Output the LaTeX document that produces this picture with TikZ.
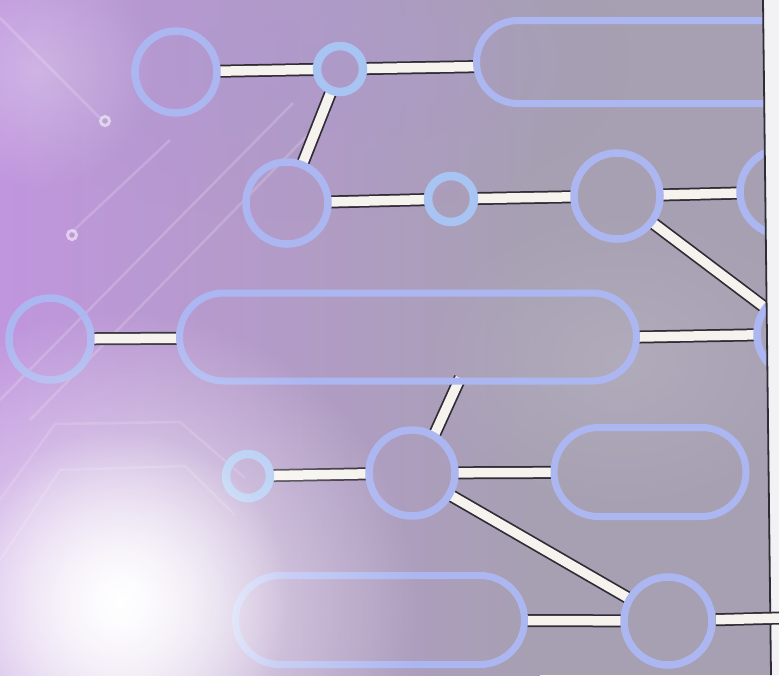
\documentclass[tikz,border=0pt]{standalone}
\usetikzlibrary{shapes.misc,fadings,calc}
\pgfdeclarelayer{bg}
\pgfdeclarelayer{conn}
\pgfsetlayers{bg,conn,main}
\definecolor{basec}{RGB}{166,160,178}
\definecolor{purpc}{RGB}{192,150,222}
\definecolor{topc}{RGB}{172,152,208}
\definecolor{ringc}{RGB}{172,182,240}
\definecolor{dotc}{RGB}{168,196,242}
\definecolor{wiredark}{RGB}{48,44,54}
\definecolor{wirewhite}{RGB}{246,243,238}
\definecolor{stripc}{RGB}{242,242,244}
\tikzfading[name=glowfade, inner color=transparent!0, outer color=transparent!100]
\newcommand\mywire[2]{\draw[wireout] (#1) -- (#2); \draw[wirein] (#1) -- (#2);}
\begin{document}
\begin{tikzpicture}[x=1pt,y=-1pt,
  ring/.style={circle, draw=ringc, line width=7.5pt, inner sep=0pt},
  dotring/.style={circle, draw=dotc, line width=8.5pt, inner sep=0pt},
  pill/.style={rounded rectangle, draw=ringc, line width=7pt, inner sep=0pt},
  wireout/.style={draw=wiredark, line width=13pt, shorten <=-3pt, shorten >=-3pt},
  wirein/.style={draw=wirewhite, line width=9.5pt, shorten <=-3pt, shorten >=-3pt},
  faint/.style={draw=white, line width=2.5pt, opacity=0.18},
  tiny/.style={circle, draw=white, line width=3pt, opacity=0.55, minimum size=9pt, inner sep=0pt}]
\useasboundingbox (0,0) rectangle (779,675);
% background
\begin{pgfonlayer}{bg}
  \fill[basec] (0,0) rectangle (779,675);
  \shade[left color=purpc, right color=basec] (0,0) rectangle (540,675);
  \fill[topc, opacity=0.45, path fading=glowfade] (300,60) ellipse (330 and 160);
  \fill[white, opacity=0.28, path fading=glowfade] (35,70) circle (120);
  \fill[white, opacity=0.12, path fading=glowfade] (620,360) ellipse (200 and 150);
  \draw[faint] (0,18) -- (100,118);
  \draw[faint] (293,103) -- (0,400);
  \draw[faint] (72,232) -- (170,140);
  \draw[faint] (330,112) -- (30,420);
  \draw[faint, opacity=0.14] (0,560) -- (60,470) -- (185,466) -- (235,515);
  \draw[faint, opacity=0.14] (0,500) -- (55,424) -- (180,422) -- (245,478);
  \node[tiny] (t1) at (105,121) {};
  \node[tiny] (t2) at (72,235) {};
\end{pgfonlayer}
% nodes
\node[ring, minimum size=82pt] (A) at (176,72) {};
\node[dotring, minimum size=46pt] (B) at (340,69) {};
\node[pill, minimum width=527pt, minimum height=83pt] (C) at (740,62) {};
\node[ring, minimum size=82pt] (D) at (287,203) {};
\node[dotring, minimum size=46pt] (E) at (451,199) {};
\node[ring, minimum size=86pt] (F) at (617,196) {};
\node[ring, minimum size=86pt] (G) at (783,192) {};
\node[ring, minimum size=86pt] (H) at (800,334) {};
\node[ring, minimum size=82pt] (J) at (50,339) {};
\node[pill, minimum width=457pt, minimum height=88pt] (I) at (408,337) {};
\node[ring, minimum size=86pt] (K) at (412,473) {};
\node[dotring, minimum size=44pt] (L) at (248,476) {};
\node[pill, minimum width=192pt, minimum height=89pt] (M) at (650,472) {};
\node[ring, minimum size=88pt] (N) at (668,621) {};
\node[pill, minimum width=289pt, minimum height=89pt] (O) at (380,620) {};
\coordinate (i1) at ($(I.south)+(51,-4)$);
\coordinate (edge) at (781,618);
% connectors
\begin{pgfonlayer}{conn}
  \mywire{A}{B}
  \mywire{B}{C}
  \mywire{B}{D}
  \mywire{D}{E}
  \mywire{E}{F}
  \mywire{F}{G}
  \mywire{F}{H}
  \mywire{J}{I}
  \mywire{I.east}{H}
  \mywire{K.60}{i1}
  \mywire{L}{K}
  \mywire{K}{M}
  \mywire{K}{N}
  \mywire{O}{N}
\end{pgfonlayer}
% glow over the lower left
\fill[white, opacity=0.8, path fading=glowfade] (120,610) circle (300);
\fill[white, opacity=1, path fading=glowfade] (120,600) circle (170);
% right margin of the sheet
\fill[stripc] (763,0) -- (779,0) -- (779,675) -- (771,675) -- cycle;
\draw[wiredark, line width=1.8pt] (763,0) -- (771,675);
% wire leaving the picture at the bottom right
\draw[wireout, shorten <=0pt] (N) -- (edge);
\draw[wirein, shorten <=0pt] (N) -- (edge);
\end{tikzpicture}
\end{document}
